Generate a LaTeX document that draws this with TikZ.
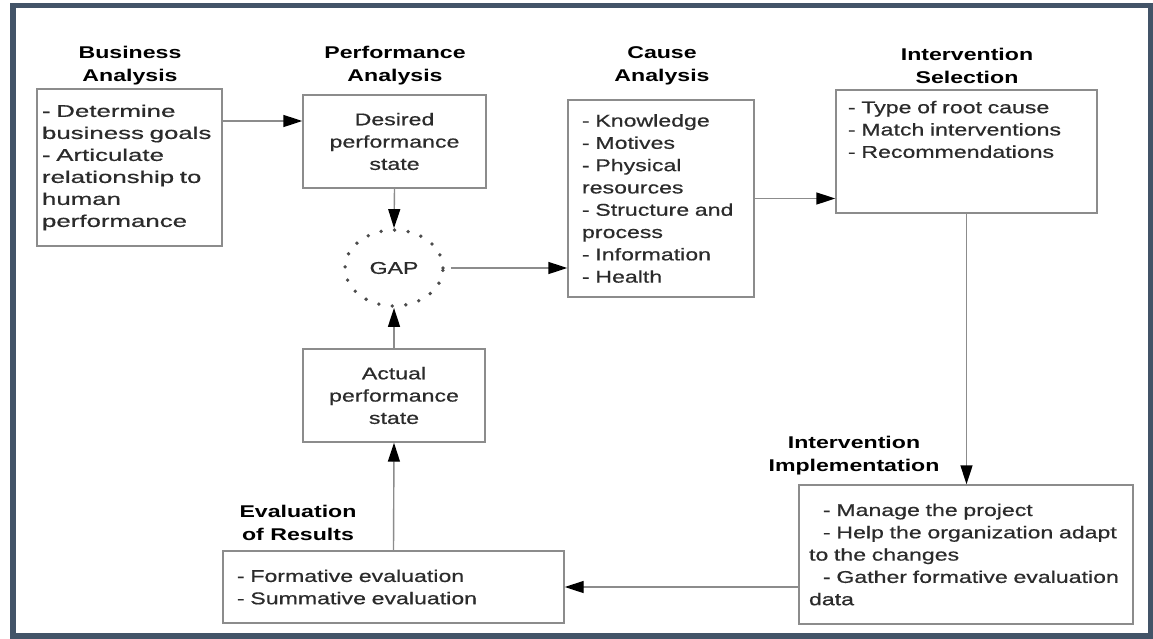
\documentclass[tikz,border=0pt]{standalone}
\usepackage{fontspec}
\setmainfont{Liberation Sans}[FakeStretch=1.36, UprightFeatures={FakeBold=0.6}]
\newfontfamily\widefont{Liberation Sans}[FakeStretch=1.52, FakeBold=0.6]
\usetikzlibrary{shapes.geometric,arrows.meta}
\definecolor{framecol}{HTML}{435468}
\definecolor{boxgray}{HTML}{8C8C8C}
\definecolor{txtgray}{HTML}{2B2B2B}
\tikzset{
  box/.style={draw=boxgray, line width=1.4pt, rectangle, text=txtgray, font=\fontsize{17}{22.3}\selectfont},
  listbox/.style={box, align=left},
  heading/.style={align=center, text=black, font=\bfseries\fontsize{17}{23}\selectfont},
  arr/.style={draw=boxgray, line width=1.4pt, -{Triangle[length=19pt,width=12pt,color=black]}}
}

\begin{document}
\begin{tikzpicture}[x=1pt,y=-1pt]
\useasboundingbox (0,0) rectangle (1153,638);
\fill[white] (0,0) rectangle (1153,638);
\draw[framecol, line width=5.5pt] (13,5.5) rectangle (1151,636);

\node[heading] (tba) at (130,66) {Business\\Analysis};
\node[heading] (tpa) at (395,66) {Performance\\Analysis};
\node[heading] (tca) at (662,66) {Cause\\Analysis};
\node[heading] (tis) at (967,66) {Intervention\\Selection};
\node[heading] (tii) at (854,456) {Intervention\\Implementation};
\node[heading] (ter) at (298,523) {Evaluation\\of Results};

\node[listbox, minimum width=185pt, minimum height=157pt, inner xsep=5pt, text width=175pt,
  font=\widefont\fontsize{17}{22}\selectfont] (ba) at (129.5,167.5)
  {- Determine\\business goals\\- Articulate\\relationship to\\human\\performance};
\node[box, align=center, minimum width=183pt, minimum height=93pt] (des) at (394.5,141.5)
  {Desired\\performance\\state};
\node[ellipse, draw=black!70, line width=3.8pt, line cap=round, dash pattern=on 0pt off 13.6pt,
  minimum width=98pt, minimum height=76pt, inner sep=0pt, text=txtgray,
  font=\fontsize{17}{22}\selectfont] (gap) at (394,268) {GAP};
\node[box, align=center, minimum width=182pt, minimum height=93pt] (act) at (394,395.5)
  {Actual\\performance\\state};
\node[listbox, minimum width=186pt, minimum height=197pt, inner xsep=14pt, text width=158pt] (cause) at (661,198.5)
  {- Knowledge\\- Motives\\- Physical\\resources\\- Structure and\\process\\- Information\\- Health};
\node[listbox, minimum width=261pt, minimum height=123pt, inner xsep=12pt, text width=237pt] (sel) at (966.5,151.5)
  {- Type of root cause\\- Match interventions\\- Recommendations\\[22pt]\mbox{}};
\node[listbox, minimum width=334pt, minimum height=139pt, inner xsep=10pt, text width=314pt] (impl) at (966,554.5)
  {\hspace*{14pt}- Manage the project\\\hspace*{14pt}- Help the organization adapt\\to the changes\\\hspace*{14pt}- Gather formative evaluation\\data};
\node[listbox, minimum width=341pt, minimum height=72pt, inner xsep=14pt, text width=313pt] (eval) at (393.5,587)
  {- Formative evaluation\\- Summative evaluation};

\draw[arr] ([yshift=46.5pt]ba.east) -- ([yshift=46.5pt]ba.east -| des.west);
\draw[arr] (des.south) -- (gap.north);
\draw[arr, shorten <=6pt] (gap.east) -- (gap.east -| cause.west);
\draw[arr] (cause.east) -- (cause.east -| sel.west);
\draw[arr] (sel.south) -- (sel.south |- impl.north);
\draw[arr] (eval.east -| impl.west) -- (eval.east);
\draw[arr] (eval.north) -- (act.south);
\draw[arr] (act.north) -- (gap.south);
\end{tikzpicture}
\end{document}
